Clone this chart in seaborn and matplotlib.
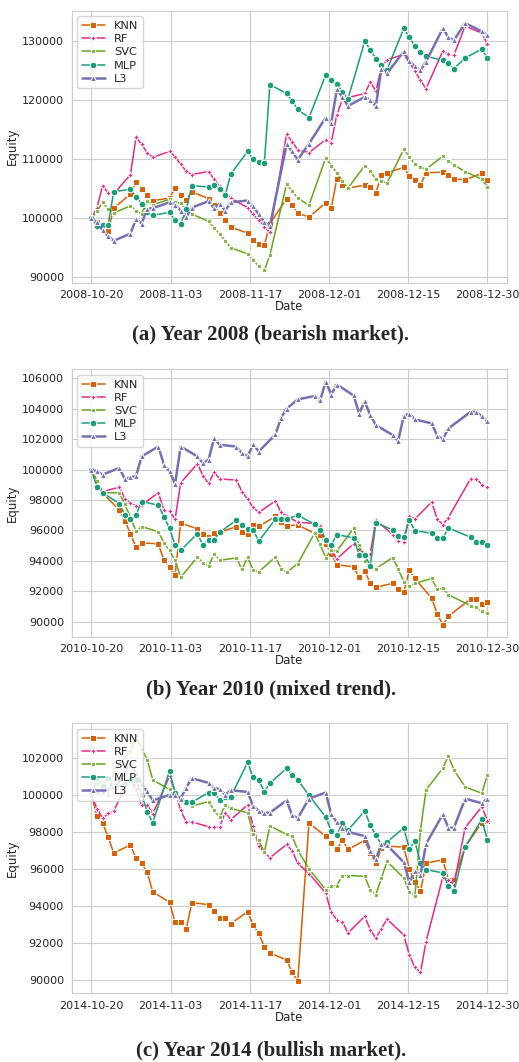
import matplotlib
matplotlib.use("Agg")
import matplotlib.pyplot as plt
import matplotlib.dates as mdates
import numpy as np
import pandas as pd
import seaborn as sns

models = ["KNN", "RF", "SVC", "MLP", "L3"]

# equity curves, one value per trading day
knn_2008 = [100000, 99300, 98700, 97900, 101700, 104100, 106200, 105000, 103900, 103000,
            103400, 105100, 104000, 103100, 104500, 103300, 102200, 100900, 99700, 98500,
            97500, 96400, 95600, 95400, 99100, 103300, 102200, 100900, 100200, 102600,
            101700, 106700, 105700, 105100, 105600, 105300, 104300, 107300, 107700, 108600,
            107200, 106400, 105600, 107700, 107800, 107400, 106700, 106500, 107600, 106400]
rf_2008 = [100000, 101800, 105500, 104300, 104100, 107400, 113700, 112500, 111100, 110300,
           111300, 110400, 109100, 108000, 107400, 107900, 106600, 105400, 104300, 103400,
           101800, 100700, 99700, 98500, 97700, 114200, 112900, 111600, 111100, 113300,
           112800, 117500, 120100, 120400, 121100, 123000, 121500, 125600, 126800, 127700,
           126300, 124900, 123300, 121900, 128300, 127700, 127600, 132500, 131300, 129400]
svc_2008 = [100000, 101200, 102700, 101600, 100900, 102100, 101300, 100800, 102900, 102300,
            103200, 102700, 102600, 101400, 100700, 99500, 98400, 97300, 96200, 95000,
            94000, 92900, 91900, 91200, 93800, 105800, 104600, 103400, 102200, 110200,
            108900, 107700, 106300, 105100, 108900, 108000, 106600, 106300, 105900, 111700,
            110400, 109100, 108700, 108300, 110500, 109700, 109000, 107900, 106600, 105300]
mlp_2008 = [100000, 98700, 98900, 98900, 104500, 104900, 103600, 102500, 101000, 100500,
            101000, 99700, 99000, 101500, 105500, 105300, 105700, 104900, 104000, 107500,
            111300, 110000, 109600, 109300, 122600, 121100, 119800, 118400, 117000, 124200,
            123300, 122700, 121400, 120200, 129900, 128500, 127000, 125900, 125100, 132100,
            130600, 129100, 128100, 127400, 126700, 126200, 125300, 127100, 128600, 127100]
l3_2008 = [100000, 99300, 98000, 97000, 96200, 97400, 99900, 99100, 101600, 101700,
           102700, 102300, 101300, 100200, 101800, 102900, 101700, 102500, 101300, 102700,
           103000, 102000, 100700, 99400, 98700, 112500, 111300, 109900, 112600, 117000,
           116100, 121800, 120500, 119000, 120500, 120000, 119000, 125300, 124500, 128200,
           126600, 125700, 125000, 126500, 132100, 130600, 130100, 133000, 131600, 131000]

knn_2010 = [100000, 98920, 98480, 97330, 96640, 95770, 94900, 95180, 95120, 94040,
            93600, 93060, 96490, 96100, 95770, 95550, 95840, 95880, 96250, 95880,
            95770, 96380, 96270, 96920, 96570, 96310, 96360, 95810, 95710, 95120,
            94470, 93750, 93600, 92910, 93320, 92520, 92260, 92520, 92150, 91930,
            93380, 92840, 91540, 90500, 89810, 90350, 91500, 91500, 91150, 91280]
rf_2010 = [100000, 99240, 98550, 98850, 98090, 97830, 97610, 97680, 98480, 97330,
           97250, 96750, 99130, 100390, 99610, 99090, 99830, 99390, 99310, 98550,
           98050, 97510, 97180, 97940, 97180, 96960, 96530, 96460, 96310, 95340,
           94730, 94140, 95120, 94800, 94470, 94470, 96680, 95730, 95290, 95230,
           96960, 96750, 97870, 96750, 96380, 96850, 99410, 99410, 99020, 98870]
svc_2010 = [100000, 99240, 98480, 98480, 97720, 96850, 95940, 96250, 95920, 95180,
            94690, 94040, 92910, 94250, 93880, 93640, 94470, 94040, 94190, 93430,
            94250, 93380, 93280, 94250, 93490, 93250, 93820, 95810, 95080, 94210,
            94730, 94640, 96140, 95010, 93970, 93600, 93490, 94210, 93470, 92630,
            92340, 92520, 92840, 92130, 92190, 91760, 91060, 90930, 90670, 90560]
mlp_2010 = [100000, 98870, 98480, 97770, 97030, 96750, 97030, 97900, 97660, 96900,
            96140, 95030, 94690, 95790, 95030, 95380, 95380, 95880, 96680, 96360,
            96100, 96050, 95290, 96750, 96750, 96750, 97010, 96400, 96050, 95400,
            95030, 95730, 95510, 94400, 94400, 93670, 96510, 96030, 95660, 95550,
            96680, 95990, 95810, 95470, 95470, 96160, 95550, 95210, 95210, 95050]
l3_2010 = [100000, 99890, 99670, 100110, 99390, 99500, 99570, 100870, 101520, 100330,
           99890, 99070, 101520, 100870, 100430, 100650, 102060, 101630, 101520, 101080,
           100870, 101670, 101190, 102320, 103410, 104010, 104620, 104840, 104550, 105790,
           104940, 105600, 104880, 103690, 104490, 103580, 102930, 102280, 101890, 103540,
           103690, 103300, 103040, 102230, 101990, 102710, 103800, 103800, 103510, 103190]

knn_2014 = [100000, 98860, 98480, 97730, 96860, 97310, 96570, 96320, 95830, 94770,
            94210, 93120, 93120, 92760, 94190, 94080, 93740, 93360, 93360, 93050,
            93700, 92980, 92530, 91810, 91460, 91100, 90420, 89960, 98470, 97780,
            97420, 97060, 97580, 97060, 97550, 96880, 96340, 97110, 97240, 97180,
            96030, 95310, 94800, 96320, 96500, 95430, 95400, 97200, 98500, 98590]
rf_2014 = [100000, 99260, 98750, 99000, 99130, 101000, 100300, 99450, 99480, 98980,
           101000, 100220, 99170, 98550, 98550, 98280, 98280, 98280, 99050, 98670,
           99460, 98340, 97220, 96910, 96610, 97330, 96970, 96300, 95760, 94710,
           93660, 93270, 93160, 92550, 93450, 92730, 92270, 92780, 93300, 92440,
           91370, 90690, 90430, 92090, 95560, 95430, 95160, 98230, 99370, 98590]
svc_2014 = [100000, 100600, 100300, 100000, 101300, 102350, 103200, 102500, 101900, 100800,
            100300, 99900, 99800, 99600, 99400, 99640, 99160, 98810, 99460, 99270,
            99040, 97910, 97550, 96910, 98320, 97870, 97780, 97020, 96010, 94890,
            95110, 95110, 95650, 95650, 95610, 94860, 94620, 95520, 96410, 95520,
            94780, 94530, 98100, 100270, 101440, 102110, 101340, 100430, 100090, 101100]
mlp_2014 = [100000, 100900, 100500, 100900, 100300, 100800, 100800, 100000, 99100, 98500,
            101300, 100100, 99700, 99600, 99600, 100130, 100130, 99700, 99900, 99910,
            101750, 100970, 100790, 100180, 100630, 101440, 101060, 100810, 99980, 98810,
            98050, 97820, 98500, 98100, 99130, 98360, 97850, 97300, 97450, 98230,
            97090, 97490, 96340, 95970, 95790, 95070, 94800, 97200, 98680, 97550]
l3_2014 = [100000, 100200, 100200, 100400, 100200, 101800, 101200, 100600, 100200, 99700,
           100000, 100000, 99800, 100400, 100900, 100650, 100370, 100310, 100020, 100250,
           100160, 99400, 99130, 99040, 99040, 99700, 98900, 98750, 99800, 100130,
           98950, 98540, 98230, 98000, 97780, 97000, 96520, 97360, 97290, 96370,
           95290, 95880, 95700, 97360, 98950, 98230, 98230, 99800, 99550, 99800]

holidays = {
    2008: ["2008-11-27", "2008-12-25"],
    2010: ["2010-11-25", "2010-12-24"],
    2014: ["2014-11-27", "2014-12-25"],
}
captions = {
    2008: "(a) Year 2008 (bearish market).",
    2010: "(b) Year 2010 (mixed trend).",
    2014: "(c) Year 2014 (bullish market).",
}
series = {
    2008: [knn_2008, rf_2008, svc_2008, mlp_2008, l3_2008],
    2010: [knn_2010, rf_2010, svc_2010, mlp_2010, l3_2010],
    2014: [knn_2014, rf_2014, svc_2014, mlp_2014, l3_2014],
}

palette = {"KNN": "#d95f02", "RF": "#e7298a", "SVC": "#66a61e", "MLP": "#1b9e77", "L3": "#7570b3"}
markers = {"KNN": "s", "RF": (4, 1, 0), "SVC": (4, 1, 45), "MLP": "o", "L3": "^"}
widths = {"KNN": 1.1, "RF": 1.1, "SVC": 1.1, "MLP": 1.1, "L3": 1.8}

sns.set_style("whitegrid")
plt.rcParams["font.family"] = ["DejaVu Sans"]

fig = plt.figure(figsize=(5.19, 10.62), dpi=100)
boxes = [
    [0.138, 0.7338, 0.8393, 0.2561],
    [0.138, 0.4005, 0.8393, 0.2516],
    [0.138, 0.0647, 0.8393, 0.2542],
]
cap_y = [0.6846, 0.3503, 0.0113]

for i, year in enumerate([2008, 2010, 2014]):
    days = pd.bdate_range(f"{year}-10-20", f"{year}-12-30", freq="C", holidays=holidays[year])
    frames = []
    for name, vals in zip(models, series[year]):
        frames.append(pd.DataFrame({"Date": days, "Equity": vals, "model": name}))
    df = pd.concat(frames, ignore_index=True)

    ax = fig.add_axes(boxes[i])
    sns.lineplot(data=df, x="Date", y="Equity", hue="model", style="model", size="model",
                 hue_order=models, style_order=models, size_order=models,
                 palette=palette, markers=markers, dashes=False, sizes=widths,
                 markersize=4.8, ax=ax)

    ticks = pd.date_range(days[0], days[-1], periods=6)
    ax.set_xticks(ticks)
    ax.xaxis.set_major_formatter(mdates.DateFormatter("%Y-%m-%d"))
    ax.ticklabel_format(axis="y", style="plain", useOffset=False)
    ax.tick_params(labelsize=8, pad=2)
    ax.set_xlabel("Date", fontsize=8.5, labelpad=0)
    ax.set_ylabel("Equity", fontsize=8.5, labelpad=2)

    h, l = ax.get_legend_handles_labels()
    ax.legend(h, l, loc="upper left", fontsize=8.2, borderaxespad=0.5,
              handlelength=2.0, labelspacing=0.28)

    fig.text(0.522, cap_y[i], captions[year], ha="center", va="center",
             family="Liberation Serif", weight="bold", fontsize=15)

fig.savefig("out.png", dpi=100)
